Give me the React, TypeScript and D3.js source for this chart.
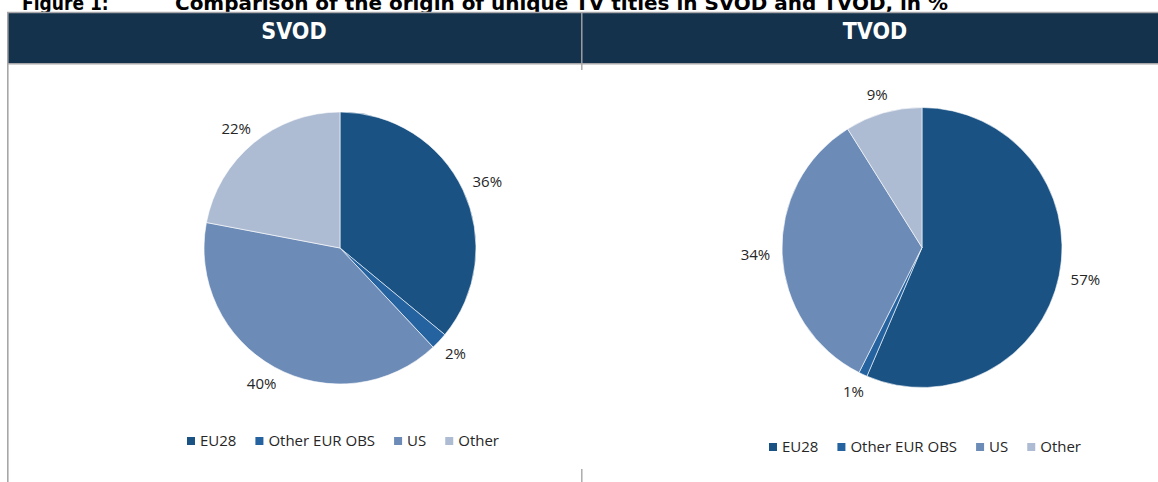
import React from "react";
import * as d3 from "d3";

// chart data
const categories = ["EU28", "Other EUR OBS", "US", "Other"];
const svodValues = [36, 2, 40, 22];
const tvodValues = [57, 1, 34, 9];
const panelTitles = ["SVOD", "TVOD"];
const figureLabel = "Figure 1:";
const figureTitle =
  "Comparison of the origin of unique TV titles in SVOD and TVOD, in %";

const colors = ["#1a5284", "#2462a0", "#6c8bb7", "#aebcd3"];
const lineColor = "#a8a6a8";
const headerFill = "#15324c";
const textColor = "#262626";

const width = 1158;
const height = 482;
const labelFont = "15px 'Open Sans'";

let ctx: CanvasRenderingContext2D | null = null;
const textWidth = (s: string, font = labelFont) => {
  if (!ctx) ctx = document.createElement("canvas").getContext("2d");
  if (!ctx) return s.length * 8;
  ctx.font = font;
  return ctx.measureText(s).width;
};

const pieGen = d3
  .pie<number>()
  .sort(null)
  .value((d) => d);

const Pie = ({
  values,
  cx,
  cy,
  r,
  legendY,
}: {
  values: number[];
  cx: number;
  cy: number;
  r: number;
  legendY: number;
}) => {
  const arcs = pieGen(values);
  const arc = d3.arc<d3.PieArcDatum<number>>().innerRadius(0).outerRadius(r);

  // legend layout, centered under the pie
  const sq = 8;
  const gapText = 5;
  const gapItem = 19;
  const widths = categories.map((c) => sq + gapText + textWidth(c));
  const total = d3.sum(widths) + gapItem * (categories.length - 1);
  let lx = cx + 3 - total / 2;
  const legendItems = categories.map((c, i) => {
    const item = { label: c, x: lx, color: colors[i] };
    lx += widths[i] + gapItem;
    return item;
  });

  return (
    <g>
      <g transform={`translate(${cx},${cy})`}>
        {arcs.map((a, i) => (
          <path
            key={i}
            d={arc(a) || ""}
            fill={colors[i]}
            stroke="#ffffff"
            strokeWidth={0.6}
          />
        ))}
        {arcs.map((a, i) => {
          const mid = (a.startAngle + a.endAngle) / 2;
          const ux = Math.sin(mid);
          const uy = -Math.cos(mid);
          const label = `${a.data}%`;
          const hw = textWidth(label) / 2;
          const x = ux * (r + 12) + ux * hw;
          const y = uy * (r + 12) + uy * 7;
          return (
            <text
              key={i}
              x={x}
              y={y}
              dy="0.35em"
              textAnchor="middle"
              fill={textColor}
              style={{ font: labelFont }}
            >
              {label}
            </text>
          );
        })}
      </g>
      {legendItems.map((it, i) => (
        <g key={i}>
          <rect
            x={it.x}
            y={legendY - sq / 2}
            width={sq}
            height={sq}
            fill={it.color}
          />
          <text
            x={it.x + sq + gapText}
            y={legendY}
            dy="0.35em"
            fill={textColor}
            style={{ font: labelFont }}
          >
            {it.label}
          </text>
        </g>
      ))}
    </g>
  );
};

export default function App() {
  return (
    <div style={{ position: "fixed", left: 0, top: 0 }}>
      <svg width={width} height={height} style={{ display: "block" }}>
        <rect width={width} height={height} fill="#ffffff" />
        {/* figure title, clipped at the top of the page */}
        <g
          style={{
            fontFamily: "'DejaVu Sans Condensed', 'DejaVu Sans'",
            fontWeight: "bold",
            fontSize: 19,
          }}
          fill="#000000"
        >
          <text x={22} y={9.5}>
            {figureLabel}
          </text>
          <text
            x={175}
            y={9.5}
            textLength={773}
            lengthAdjust="spacingAndGlyphs"
          >
            {figureTitle}
          </text>
        </g>

        {/* header band */}
        <rect x={7.5} y={12.5} width={width} height={51} fill={headerFill} />
        <line x1={7} x2={width} y1={12.5} y2={12.5} stroke={lineColor} strokeWidth={1.6} />
        <line x1={7} x2={width} y1={63.8} y2={63.8} stroke={lineColor} strokeWidth={1.6} />
        <line x1={7.8} x2={7.8} y1={12} y2={height} stroke={lineColor} strokeWidth={1.6} />
        <line x1={581.8} x2={581.8} y1={12} y2={70} stroke={lineColor} strokeWidth={1.4} />
        <line x1={581.8} x2={581.8} y1={469} y2={height} stroke={lineColor} strokeWidth={1.4} />
        {panelTitles.map((t, i) => (
          <text
            key={t}
            x={i === 0 ? 294 : 875}
            y={31}
            dy="0.36em"
            textAnchor="middle"
            fill="#ffffff"
            style={{
              fontFamily: "'DejaVu Sans Condensed', 'DejaVu Sans'",
              fontWeight: "bold",
              fontSize: 23,
            }}
          >
            {t}
          </text>
        ))}

        <Pie values={svodValues} cx={340} cy={248} r={136} legendY={441} />
        <Pie values={tvodValues} cx={922} cy={247.5} r={140} legendY={447} />
      </svg>
    </div>
  );
}
